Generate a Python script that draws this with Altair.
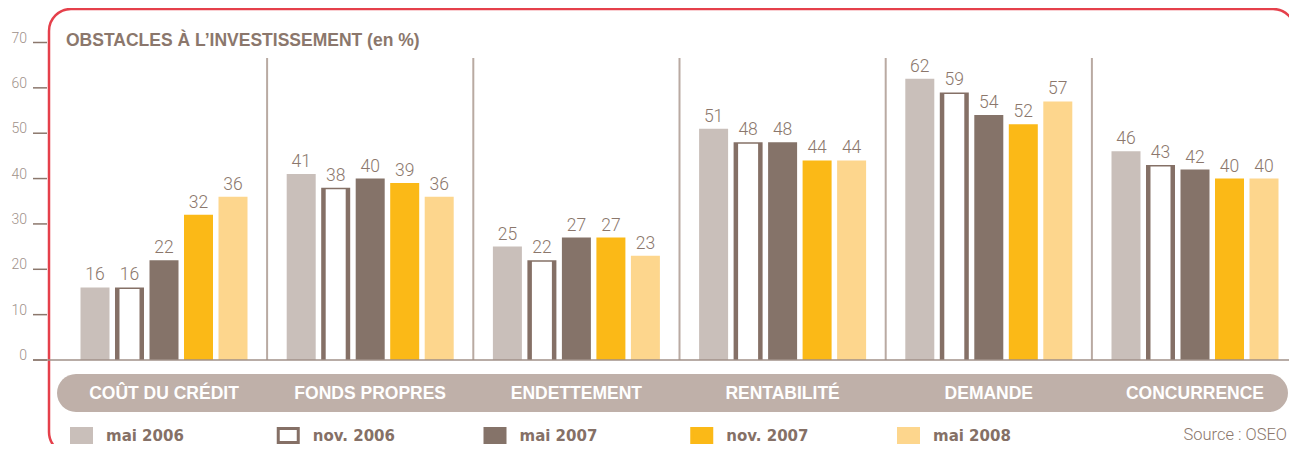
import altair as alt
import pandas as pd

# ---------------- data ----------------
categories = ["COÛT DU CRÉDIT", "FONDS PROPRES", "ENDETTEMENT", "RENTABILITÉ", "DEMANDE", "CONCURRENCE"]
series = ["mai 2006", "nov. 2006", "mai 2007", "nov. 2007", "mai 2008"]
v_mai2006 = [16, 41, 25, 51, 62, 46]
v_nov2006 = [16, 38, 22, 48, 59, 43]
v_mai2007 = [22, 40, 27, 48, 54, 42]
v_nov2007 = [32, 39, 27, 44, 52, 40]
v_mai2008 = [36, 36, 23, 44, 57, 40]
y_ticks = [0, 10, 20, 30, 40, 50, 60, 70]
title_text = "OBSTACLES À L’INVESTISSEMENT (en %)"
source_text = "Source : OSEO"
hollow_series = "nov. 2006"

legend_fill = ["#c9bfba", "#ffffff", "#857369", "#fbb917", "#fdd68d"]
series_colors = ["#c9bfba", "#857066", "#857369", "#fbb917", "#fdd68d"]

TXT = "#8b776c"

rows = []
for s, vals in zip(series, [v_mai2006, v_nov2006, v_mai2007, v_nov2007, v_mai2008]):
    for c, v in zip(categories, vals):
        rows.append({"cat": c, "series": s, "value": v})
df = pd.DataFrame(rows)
df_hollow = df[df["series"] == hollow_series]
df_cat = pd.DataFrame({"cat": categories})
df_sep = pd.DataFrame({"cat": categories[1:]})
df_ticks = pd.DataFrame({"v": y_ticks})
df_zero = pd.DataFrame({"v": [0]})
df_series = pd.DataFrame({"series": series})
one = pd.DataFrame({"k": [0]})

xscale = alt.Scale(domain=categories, range=[52.9, 1290.1], paddingInner=0, paddingOuter=0)
yscale = alt.Scale(domain=[0, 70], range=[352, 34.5], nice=False)
offscale = alt.Scale(domain=series, paddingInner=0.1594, paddingOuter=0.568)
legscale = alt.Scale(type="point", domain=series, range=[73.5, 900.5], padding=0)
barfill = alt.Scale(domain=series, range=series_colors)
legfill = alt.Scale(domain=series, range=legend_fill)
strokescale = alt.Scale(domain=series, range=series_colors)

border = alt.Chart(one).mark_rect(
    fillOpacity=0, stroke="#e5404b", strokeWidth=2.5, cornerRadius=22
).encode(x=alt.value(41), x2=alt.value(1287), y=alt.value(1), y2=alt.value(446))

seps = alt.Chart(df_sep).mark_rule(color="#b9aaa2", strokeWidth=2).encode(
    x=alt.X("cat:N", bandPosition=0, scale=xscale, axis=None),
    y=alt.value(50), y2=alt.value(352),
)

bars = alt.Chart(df).mark_bar().encode(
    x=alt.X("cat:N", scale=xscale, axis=None),
    xOffset=alt.XOffset("series:N", scale=offscale),
    y=alt.Y("value:Q", scale=yscale, axis=None),
    fill=alt.Fill("series:N", scale=barfill, legend=None),
)

hollow = alt.Chart(df_hollow).mark_bar(color="white", width=20, yOffset=1.5).encode(
    x=alt.X("cat:N", scale=xscale, axis=None),
    xOffset=alt.XOffset("series:N", scale=offscale),
    y=alt.Y("value:Q", scale=yscale, axis=None),
)

baseline = alt.Chart(df_zero).mark_rule(color="#a09088", strokeWidth=1.5).encode(
    x=alt.value(25), x2=alt.value(1281), y=alt.Y("v:Q", scale=yscale, axis=None)
)

ticks = alt.Chart(df_ticks).mark_rule(color="#8b776c", strokeWidth=1.5).encode(
    x=alt.value(25), x2=alt.value(39), y=alt.Y("v:Q", scale=yscale, axis=None)
)

tick_labels = alt.Chart(df_ticks).mark_text(
    align="right", baseline="alphabetic", font="Roboto", fontWeight=300, fontSize=14, color="#a0918a"
).encode(x=alt.value(19), y=alt.Y("v:Q", scale=yscale, axis=None), text=alt.Text("v:Q"))

value_labels = alt.Chart(df).mark_text(
    baseline="alphabetic", dy=-7, font="Roboto", fontWeight=300, fontSize=17.5, color=TXT
).encode(
    x=alt.X("cat:N", scale=xscale, axis=None),
    xOffset=alt.XOffset("series:N", scale=offscale),
    y=alt.Y("value:Q", scale=yscale, axis=None),
    text=alt.Text("value:Q"),
)

pill = alt.Chart(one).mark_rect(color="#bfb0a9", cornerRadius=19).encode(
    x=alt.value(49), x2=alt.value(1280), y=alt.value(366), y2=alt.value(404)
)

cat_labels = alt.Chart(df_cat).mark_text(
    baseline="middle", font="Liberation Sans", fontWeight="bold", fontSize=17.5, color="white"
).encode(x=alt.X("cat:N", scale=xscale, axis=None), y=alt.value(386), text="cat:N")

leg_sym = alt.Chart(df_series).mark_point(
    shape="M-1.4286,-1H1.4286V1H-1.4286Z", size=196, filled=True, strokeWidth=3, opacity=1
).encode(
    x=alt.X("series:N", scale=legscale, axis=None),
    y=alt.value(427.5),
    fill=alt.Fill("series:N", scale=legfill, legend=None),
    stroke=alt.Stroke("series:N", scale=strokescale, legend=None),
)

leg_txt = alt.Chart(df_series).mark_text(
    align="left", baseline="middle", dx=24.5, dy=1, font="DejaVu Sans", fontWeight="bold",
    fontSize=15, color="#857066"
).encode(x=alt.X("series:N", scale=legscale, axis=None), y=alt.value(427), text="series:N")

title = alt.Chart(one).mark_text(
    align="left", baseline="alphabetic", font="Liberation Sans", fontWeight="bold",
    fontSize=17.5, color=TXT, text=title_text
).encode(x=alt.value(58), y=alt.value(38))

source = alt.Chart(one).mark_text(
    align="right", baseline="alphabetic", font="Roboto", fontWeight=300,
    fontSize=16.5, color=TXT, text=source_text
).encode(x=alt.value(1279), y=alt.value(432))

chart = alt.layer(
    border, seps, bars, hollow, baseline, ticks, tick_labels, value_labels, pill, cat_labels,
    leg_sym, leg_txt, title, source
).resolve_scale(x="independent", fill="independent").properties(
    width=1281, height=436, autosize=alt.AutoSizeParams(type="none"), padding=0,
    background="white"
).configure_view(stroke=None)

chart.save("out.html", embed_options={"renderer": "svg", "actions": False})
